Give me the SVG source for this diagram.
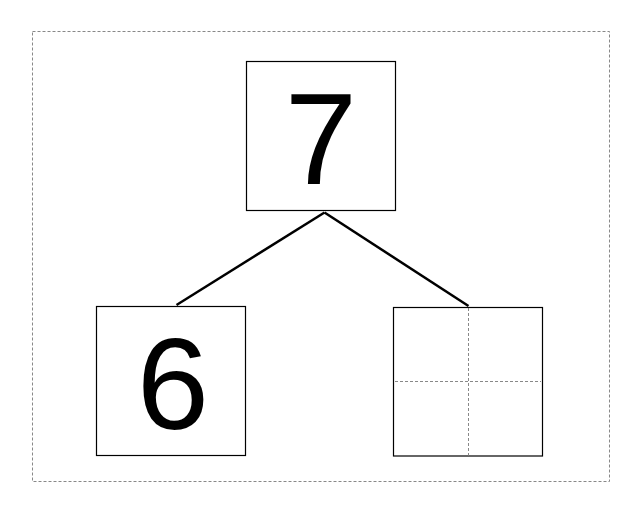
<svg xmlns="http://www.w3.org/2000/svg" width="642" height="513" viewBox="0 0 642 513">
<style>
.box{fill:#fff;stroke:#000;stroke-width:1.2}
.num{font-family:"Liberation Sans",Arial,sans-serif;font-size:130px;fill:#000;text-anchor:middle}
.guide{fill:none;stroke:#888;stroke-width:1;stroke-dasharray:3,2}
.edge{fill:none;stroke:#000;stroke-width:2.5}
</style>
<rect x="0" y="0" width="642" height="513" fill="#fff"/>
<rect id="frame" x="32.5" y="31.5" width="577" height="450" class="guide"/>
<g id="connectors">
<line class="edge" x1="324.5" y1="212.5" x2="176.5" y2="305"/>
<line class="edge" x1="324.5" y1="212.5" x2="468.5" y2="306"/>
</g>
<g id="node-top">
<rect class="box" x="246.5" y="61.5" width="149" height="149"/>
<text class="num" x="321" y="183.5">7</text>
</g>
<g id="node-left">
<rect class="box" x="96.5" y="306.5" width="149" height="149"/>
<text class="num" x="173" y="429">6</text>
</g>
<g id="node-right">
<rect class="box" x="393.5" y="307.5" width="149" height="148.5"/>
<line class="guide" x1="468.5" y1="308" x2="468.5" y2="455.5"/>
<line class="guide" x1="395" y1="381.5" x2="541" y2="381.5"/>
</g>
</svg>
